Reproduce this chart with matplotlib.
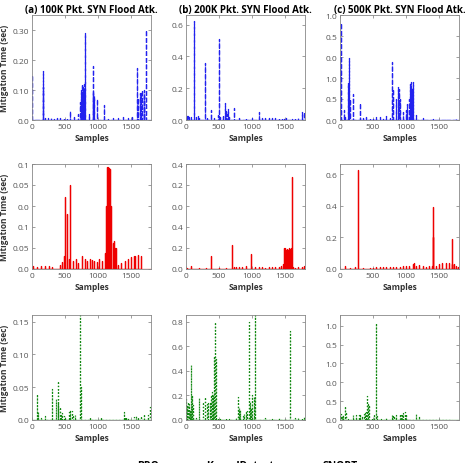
import numpy as np
import matplotlib
matplotlib.use('Agg')
from matplotlib import pyplot as plt
from matplotlib.lines import Line2D

plt.rcParams['font.family'] = ['Open Sans', 'DejaVu Sans']

# ---- data: (sample index, mitigation time) for each spike ----
# row 1: BRO
bro_a_x = [5, 160, 170, 200, 240, 280, 330, 380, 430, 480, 530, 580, 640, 700, 720, 740, 750, 760, 770, 780, 790, 800,
           860, 920, 930, 940, 990, 1090, 1150, 1220, 1300, 1380, 1450, 1520, 1590, 1610, 1630, 1650, 1670, 1690, 1700, 1720]
bro_a_y = [0.15, 0.11, 0.165, 0.008, 0.006, 0.008, 0.005, 0.007, 0.006, 0.008, 0.006, 0.03, 0.01, 0.02, 0.06, 0.1, 0.12, 0.08, 0.11, 0.09, 0.12, 0.29,
           0.02, 0.18, 0.095, 0.08, 0.07, 0.05, 0.005, 0.006, 0.006, 0.01, 0.008, 0.01, 0.175, 0.075, 0.09, 0.095, 0.1, 0.08, 0.1, 0.30]
bro_b_x = [10, 30, 50, 80, 120, 150, 180, 200, 280, 290, 320, 380, 430, 480, 500, 520, 560, 590, 600, 610, 620, 630, 650, 720, 730,
           800, 900, 950, 1000, 1100, 1150, 1200, 1260, 1300, 1350, 1400, 1450, 1480, 1520, 1600, 1650, 1700, 1750, 1790]
bro_b_y = [0.03, 0.025, 0.02, 0.02, 0.62, 0.02, 0.025, 0.015, 0.36, 0.1, 0.02, 0.06, 0.01, 0.03, 0.51, 0.02, 0.03, 0.11, 0.05, 0.06, 0.04, 0.07, 0.02, 0.075, 0.07,
           0.01, 0.01, 0.008, 0.01, 0.05, 0.012, 0.015, 0.01, 0.015, 0.012, 0.01, 0.015, 0.015, 0.01, 0.008, 0.01, 0.015, 0.05, 0.05]
bro_c_x = [5, 10, 15, 60, 80, 120, 130, 140, 150, 200, 300, 350, 400, 450, 500, 550, 600, 650, 700, 750, 780, 790, 800, 850, 870,
           880, 890, 900, 950, 1000, 1020, 1040, 1060, 1070, 1080, 1090, 1100, 1110, 1150, 1250, 1400, 1600, 1750]
bro_c_y = [0.6, 0.92, 0.7, 0.1, 0.03, 0.35, 0.586, 0.29, 0.2, 0.25, 0.16, 0.02, 0.025, 0.02, 0.015, 0.03, 0.025, 0.02, 0.035, 0.03, 0.1, 0.55, 0.3, 0.2, 0.31,
           0.25, 0.3, 0.2, 0.08, 0.1, 0.15, 0.2, 0.34, 0.25, 0.36, 0.3, 0.36, 0.2, 0.05, 0.02, 0.005, 0.005, 0.005]

# row 2: KernelDetect
kd_a_x = [20, 80, 140, 200, 260, 300, 420, 460, 480, 500, 530, 560, 575, 620, 660, 700, 760, 800, 830, 870, 900, 940, 980, 1020, 1060, 1100,
          1120, 1125, 1130, 1135, 1140, 1145, 1150, 1155, 1160, 1165, 1170, 1175, 1180, 1185, 1190, 1195, 1200,
          1220, 1240, 1250, 1270, 1300, 1350, 1400, 1450, 1500, 1540, 1560, 1600, 1650]
kd_a_y = [0.03, 0.02, 0.03, 0.025, 0.03, 0.02, 0.04, 0.07, 0.12, 0.69, 0.52, 0.1, 0.80, 0.08, 0.1, 0.06, 0.12, 0.1, 0.08, 0.1, 0.09, 0.08, 0.07, 0.1, 0.08, 0.15,
          0.1, 0.6, 0.93, 0.97, 0.96, 0.95, 0.97, 0.96, 0.95, 0.96, 0.94, 0.95, 0.93, 0.8, 0.6, 0.4, 0.3,
          0.25, 0.27, 0.2, 0.2, 0.04, 0.06, 0.08, 0.1, 0.11, 0.12, 0.12, 0.13, 0.12]
kd_b_x = [20, 80, 200, 300, 380, 500, 600, 690, 730, 760, 800, 850, 900, 980, 1050, 1100, 1150, 1200, 1250, 1300, 1350, 1400, 1440, 1470,
          1480, 1490, 1500, 1510, 1520, 1530, 1540, 1550, 1560, 1570, 1580, 1590, 1600, 1610, 1620, 1650, 1700, 1750, 1790]
kd_b_y = [0.01, 0.03, 0.005, 0.005, 0.12, 0.005, 0.008, 0.23, 0.02, 0.02, 0.02, 0.02, 0.03, 0.14, 0.015, 0.015, 0.015, 0.01, 0.02, 0.015, 0.02, 0.015, 0.03, 0.05,
          0.2, 0.19, 0.2, 0.17, 0.18, 0.19, 0.15, 0.18, 0.2, 0.19, 0.19, 0.2, 0.2, 0.88, 0.02, 0.01, 0.015, 0.02, 0.025]
kd_c_x = [70, 150, 230, 270, 350, 450, 500, 550, 600, 650, 700, 750, 800, 850, 900, 950, 1000, 1050, 1100, 1120, 1150, 1200, 1250, 1300,
          1350, 1390, 1400, 1410, 1450, 1500, 1550, 1600, 1650, 1690, 1700, 1720, 1750, 1780]
kd_c_y = [0.02, 0.005, 0.015, 0.625, 0.005, 0.005, 0.008, 0.01, 0.012, 0.015, 0.012, 0.015, 0.015, 0.01, 0.015, 0.018, 0.02, 0.02, 0.03, 0.04, 0.02, 0.025, 0.02, 0.015,
          0.02, 0.02, 0.2, 0.39, 0.02, 0.03, 0.035, 0.04, 0.04, 0.03, 0.19, 0.03, 0.02, 0.015]

# row 3: SNORT
sn_a_x = [80, 90, 140, 200, 300, 370, 390, 400, 420, 440, 460, 480, 500, 560, 580, 600, 620, 650, 730, 735, 880, 1050, 1390, 1400, 1420,
          1450, 1550, 1580, 1600, 1650, 1700, 1760, 1790]
sn_a_y = [0.04, 0.012, 0.003, 0.006, 0.047, 0.032, 0.06, 0.025, 0.02, 0.008, 0.01, 0.006, 0.004, 0.012, 0.015, 0.013, 0.008, 0.008, 0.16, 0.05, 0.004, 0.004, 0.012, 0.005, 0.004,
          0.003, 0.005, 0.006, 0.004, 0.006, 0.009, 0.007, 0.02]
sn_b_x = [5, 15, 25, 35, 45, 55, 70, 80, 90, 100, 110, 150, 190, 250, 290, 320, 340, 360, 380, 390, 400, 410, 420, 430, 440, 450, 480, 520, 560,
          600, 650, 700, 750, 780, 790, 800, 820, 860, 880, 900, 930, 960, 970, 990, 1000, 1030, 1050, 1100, 1200, 1300, 1350, 1400, 1500,
          1580, 1650, 1700, 1750, 1790]
sn_b_y = [0.17, 0.12, 0.15, 0.1, 0.13, 0.08, 0.45, 0.22, 0.2, 0.12, 0.08, 0.02, 0.18, 0.15, 0.19, 0.13, 0.14, 0.15, 0.2, 0.23, 0.15, 0.2, 0.52, 0.5, 0.8, 0.5, 0.02, 0.005, 0.01,
          0.02, 0.01, 0.005, 0.02, 0.19, 0.12, 0.1, 0.08, 0.03, 0.05, 0.07, 0.07, 0.8, 0.15, 0.1, 0.2, 0.19, 0.85, 0.01, 0.015, 0.01, 0.01, 0.02, 0.01,
          0.72, 0.02, 0.015, 0.02, 0.025]
sn_c_x = [5, 20, 35, 50, 70, 85, 95, 120, 200, 240, 280, 300, 340, 360, 380, 390, 400, 405, 411, 420, 440, 490, 520, 540, 560, 620, 700,
          780, 800, 820, 850, 900, 920, 940, 960, 980, 1000, 1050, 1150, 1200, 1300, 1500, 1700]
sn_c_y = [0.25, 0.3, 0.2, 0.25, 0.72, 0.4, 0.3, 0.05, 0.25, 0.25, 0.25, 0.3, 0.2, 0.3, 0.35, 0.4, 0.3, 0.5, 1.28, 0.9, 0.8, 0.1, 0.3, 5.15, 0.2, 0.05, 0.1,
          0.25, 0.28, 0.2, 0.25, 0.3, 0.25, 0.3, 0.35, 0.4, 0.3, 0.05, 0.3, 0.2, 0.02, 0.02, 0.02]

titles = ['(a) 100K Pkt. SYN Flood Atk.', '(b) 200K Pkt. SYN Flood Atk.', '(c) 500K Pkt. SYN Flood Atk.']
legend_names = ['BRO', 'KernelDetect', 'SNORT']

# y ticks as printed in the figure
yt_bro_a = [0, 0.1, 0.2, 0.3]
yl_bro_a = ['0.0', '0.10', '0.20', '0.30']
yt_bro_b = [0, 0.2, 0.4, 0.6]
yl_bro_b = ['0.0', '0.2', '0.4', '0.6']
yt_bro_c = [0, 0.2, 0.4, 0.6, 0.8, 1.0]
yl_bro_c = ['0.0', '0.5', '1.0', '0.0', '0.5', '1.0']
yt_kd_a = [0, 0.2, 0.4, 0.6, 0.8, 1.0]
yl_kd_a = ['0.0', '0.05', '0.1', '0.0', '0.05', '0.1']
yt_kd_b = [0, 0.2, 0.4, 0.6, 0.8, 1.0]
yl_kd_b = ['0.0', '0.2', '0.4', '0.0', '0.2', '0.4']
yt_kd_c = [0, 0.2, 0.4, 0.6]
yl_kd_c = ['0.0', '0.2', '0.4', '0.6']
yt_sn_a = [0, 0.05, 0.10, 0.15]
yl_sn_a = ['0.0', '0.05', '0.10', '0.15']
yt_sn_b = [0, 0.2, 0.4, 0.6, 0.8]
yl_sn_b = ['0.0', '0.2', '0.4', '0.6', '0.8']
yt_sn_c = [0, 1, 2, 3, 4, 5]
yl_sn_c = ['0.0', '0.5', '0.0', '1.0', '0.5', '1.0']

panels = [
    [(bro_a_x, bro_a_y, 0.35, yt_bro_a, yl_bro_a), (bro_b_x, bro_b_y, 0.66, yt_bro_b, yl_bro_b), (bro_c_x, bro_c_y, 1.0, yt_bro_c, yl_bro_c)],
    [(kd_a_x, kd_a_y, 1.0, yt_kd_a, yl_kd_a), (kd_b_x, kd_b_y, 1.0, yt_kd_b, yl_kd_b), (kd_c_x, kd_c_y, 0.664, yt_kd_c, yl_kd_c)],
    [(sn_a_x, sn_a_y, 0.16, yt_sn_a, yl_sn_a), (sn_b_x, sn_b_y, 0.854, yt_sn_b, yl_sn_b), (sn_c_x, sn_c_y, 5.57, yt_sn_c, yl_sn_c)],
]
colors = ['#2222ee', '#ee0000', '#118811']
styles = ['--', '-', ':']

W, H = 465, 464
fig = plt.figure(figsize=(W / 100, H / 100), dpi=100)
lefts = [32, 186, 340]
tops = [16, 165, 316]
aw, ah = 119, 105

for r in range(3):
    for c in range(3):
        xs, ys, ytop, yt, yl = panels[r][c]
        ax = fig.add_axes([lefts[c] / W, 1 - (tops[r] + ah) / H, aw / W, ah / H])
        # spikes: go up to the value and back to the baseline
        px = np.repeat(xs, 3)
        py = np.column_stack([np.zeros(len(ys)), ys, np.zeros(len(ys))]).ravel()
        ax.plot(px, py, color=colors[r], linestyle=styles[r], linewidth=0.9)
        ax.plot([0, 1800], [0.003 * ytop, 0.003 * ytop], color=colors[r], linewidth=0.9)
        ax.set_xlim(0, 1800)
        ax.set_ylim(0, ytop)
        ax.set_xticks([0, 500, 1000, 1500])
        ax.set_yticks(yt)
        ax.set_yticklabels(yl)
        ax.tick_params(direction='in', length=2, width=0.5, top=True, right=True,
                       labelsize=6, labelcolor='#555555', color='#777777', pad=2)
        for s in ax.spines.values():
            s.set_color('#888888')
            s.set_linewidth(0.6)
        ax.set_xlabel('Samples', fontsize=6, fontweight='bold', color='#333333', labelpad=2)
        if c == 0:
            ax.set_ylabel('Mitigation Time (sec)', fontsize=6, fontweight='bold', color='#333333', labelpad=3)
        if r == 0:
            ax.set_title(titles[c], fontsize=7, fontweight='bold', pad=2.5)

handles = [Line2D([], [], color=colors[i], linestyle=styles[i], linewidth=1) for i in range(3)]
fig.legend(handles, legend_names, loc='center', bbox_to_anchor=(0.5, -0.006), ncol=3, frameon=False,
           prop={'size': 7.5, 'weight': 'bold'}, handlelength=2.6, handletextpad=0.2, columnspacing=1.8)

fig.savefig('out.png', dpi=100)
